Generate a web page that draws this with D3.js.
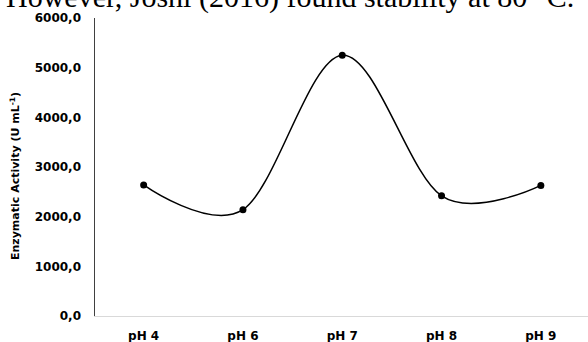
<!DOCTYPE html>
<html><head><meta charset="utf-8">
<script src="https://cdn.jsdelivr.net/npm/d3@7"></script>
<style>body{margin:0;background:#fff}svg{display:block}</style>
</head><body>
<script>
const categories = ["pH 4","pH 6","pH 7","pH 8","pH 9"];
const values = [2640, 2140, 5250, 2420, 2630];
const yTicks = [0,1000,2000,3000,4000,5000,6000];
const yTickLabels = ["0,0","1000,0","2000,0","3000,0","4000,0","5000,0","6000,0"];
const captionText = "However, Joshi (2016) found stability at 80 °C.";
const yLabel = "Enzymatic Activity (U mL";

const W=588,H=342;
const svg=d3.select("body").append("svg").attr("width",W).attr("height",H);

svg.append("text").attr("x",6).attr("y",6.5)
  .attr("font-family","Liberation Serif, Times New Roman, serif").attr("font-size",30)
  .attr("fill","#000").text(captionText);

const x=d3.scaleBand().domain(categories).range([94,590.5]);
const y=d3.scaleLinear().domain([0,6000]).range([316,18]);

svg.append("line").attr("x1",94).attr("x2",588).attr("y1",316.5).attr("y2",316.5)
  .attr("stroke","#d9d9d9").attr("stroke-width",1);
svg.append("line").attr("x1",94.5).attr("x2",94.5).attr("y1",y(6000)).attr("y2",316)
  .attr("stroke","#404040").attr("stroke-width",1);

const font="DejaVu Sans, Verdana, sans-serif";
svg.append("g").selectAll("text").data(yTicks).join("text")
  .attr("x",81).attr("y",d=>y(d)).attr("dy","0.35em").attr("text-anchor","end")
  .attr("font-family",font).attr("font-weight","bold").attr("font-size",12)
  .attr("fill","#000").text((d,i)=>yTickLabels[i]);

svg.append("g").selectAll("text").data(categories).join("text")
  .attr("x",d=>x(d)+x.bandwidth()/2).attr("y",335.5).attr("dy","0.35em").attr("text-anchor","middle")
  .attr("font-family",font).attr("font-weight","bold").attr("font-size",12)
  .attr("fill","#000").text(d=>d);

const yl=svg.append("text").attr("transform","translate(19,176) rotate(-90)")
  .attr("text-anchor","middle").attr("font-family",font).attr("font-weight","bold")
  .attr("font-size",11).attr("fill","#000");
yl.append("tspan").text(yLabel);
yl.append("tspan").attr("dy",-4).attr("font-size",7.5).text("-1");
yl.append("tspan").attr("dy",4).text(")");

const pts=categories.map((c,i)=>[x(c)+x.bandwidth()/2,y(values[i])]);
svg.append("path").attr("d",d3.line().curve(d3.curveCardinal.tension(0))(pts))
  .attr("fill","none").attr("stroke","#000").attr("stroke-width",1.5);
svg.append("g").selectAll("circle").data(pts).join("circle")
  .attr("cx",d=>d[0]).attr("cy",d=>d[1]).attr("r",3.5).attr("fill","#000");
</script>
</body></html>
